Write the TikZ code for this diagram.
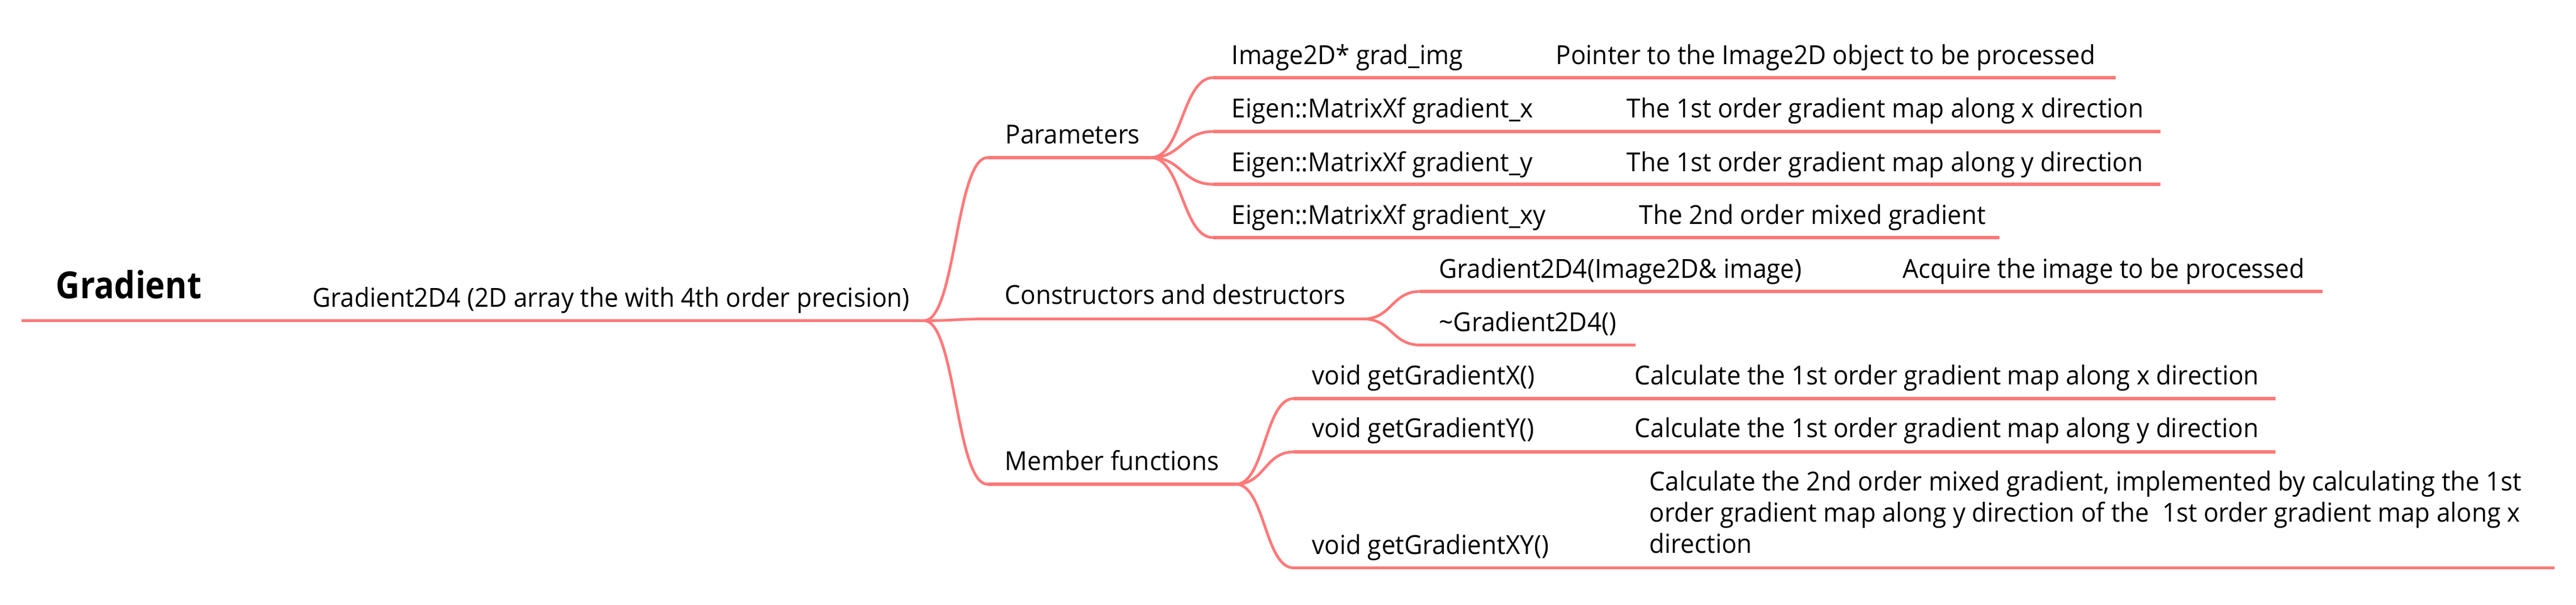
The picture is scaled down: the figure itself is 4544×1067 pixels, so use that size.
\documentclass[tikz,border=0pt]{standalone}
\usepackage{fontspec}
\setmainfont{Open Sans}[FakeStretch=0.952]
\newfontfamily\rootfont{Open Sans}[FakeStretch=0.89]
\definecolor{linecol}{RGB}{255,120,120}
\begin{document}
\begin{tikzpicture}[x=0.25pt,y=-0.25pt,
  lc/.style={draw=linecol,line width=1.3pt},
  conn/.style={draw=linecol,line width=1.2pt,line cap=round},
  txt/.style={anchor=base west,inner sep=0pt,font=\fontsize{11.55}{13.75}\selectfont},
  roottxt/.style={anchor=base west,inner sep=0pt,font=\rootfont\fontsize{16.45}{20}\selectfont\bfseries}]
\useasboundingbox (0,0) rectangle (4544,1067);

% root
\coordinate (r0) at (38,565.5); \coordinate (r1) at (407,565.5);
\draw[lc] (r0) -- (r1);
\node[roottxt] (root) at (98,527) {Gradient};
% Gradient2D4
\coordinate (g0) at (522,565.5); \coordinate (g1) at (1630,565.5);
\draw[lc] (g0) -- (g1);
\node[txt] (gtxt) at (551,542) {Gradient2D4 (2D array the with 4th order precision)};
\draw[conn] (r1) -- (g0);

% level 1
\coordinate (p0) at (1742,278); \coordinate (p1) at (2030,278);
\draw[lc] (p0) -- (p1);
\node[txt] (ptxt) at (1773,254) {Parameters};
\coordinate (c0) at (1742,562.5); \coordinate (c1) at (2405,562.5);
\draw[lc] (c0) -- (c1);
\node[txt] (ctxt) at (1772,537) {Constructors and destructors};
\coordinate (m0) at (1742,854); \coordinate (m1) at (2180,854);
\draw[lc] (m0) -- (m1);
\node[txt] (mtxt) at (1772,830) {Member functions};
\draw[conn] (g1) .. controls +(56,0) and +(-56,0) .. (p0);
\draw[conn] (g1) .. controls +(56,0) and +(-56,0) .. (c0);
\draw[conn] (g1) .. controls +(56,0) and +(-56,0) .. (m0);

% parameters children
\coordinate (pa0) at (2140,137); \coordinate (pa1) at (3732,137);
\draw[lc] (pa0) -- (pa1);
\node[txt] (pan) at (2172,114) {Image2D* grad\_img};
\node[txt] (pad) at (2744,114) {Pointer to the Image2D object to be processed};
\coordinate (pb0) at (2140,232); \coordinate (pb1) at (3811,232);
\draw[lc] (pb0) -- (pb1);
\node[txt] (pbn) at (2172,208) {Eigen::MatrixXf gradient\_x};
\node[txt] (pbd) at (2869,208) {The 1st order gradient map along x direction};
\coordinate (pc0) at (2140,325); \coordinate (pc1) at (3811,325);
\draw[lc] (pc0) -- (pc1);
\node[txt] (pcn) at (2172,303) {Eigen::MatrixXf gradient\_y};
\node[txt] (pcd) at (2869,303) {The 1st order gradient map along y direction};
\coordinate (pd0) at (2140,419); \coordinate (pd1) at (3527,419);
\draw[lc] (pd0) -- (pd1);
\node[txt] (pdn) at (2172,396) {Eigen::MatrixXf gradient\_xy};
\node[txt] (pdd) at (2891,396) {The 2nd order mixed gradient};
\foreach \k in {pa0,pb0,pc0,pd0}
  \draw[conn] (p1) .. controls +(55,0) and +(-55,0) .. (\k);

% constructors children
\coordinate (ca0) at (2505,514); \coordinate (ca1) at (4097,514);
\draw[lc] (ca0) -- (ca1);
\node[txt] (can) at (2538,491) {Gradient2D4(Image2D\& image)};
\node[txt] (cad) at (3356,491) {Acquire the image to be processed};
\coordinate (cb0) at (2505,608.5); \coordinate (cb1) at (2885,608.5);
\draw[lc] (cb0) -- (cb1);
\node[txt] (cbn) at (2538,585) {\char`\~Gradient2D4()};
\foreach \k in {ca0,cb0}
  \draw[conn] (c1) .. controls +(50,0) and +(-50,0) .. (\k);

% member children
\coordinate (ma0) at (2282,703); \coordinate (ma1) at (4014,703);
\draw[lc] (ma0) -- (ma1);
\node[txt] (man) at (2314,679) {void getGradientX()};
\node[txt] (mad) at (2883,679) {Calculate the 1st order gradient map along x direction};
\coordinate (mb0) at (2282,797); \coordinate (mb1) at (4014,797);
\draw[lc] (mb0) -- (mb1);
\node[txt] (mbn) at (2314,772) {void getGradientY()};
\node[txt] (mbd) at (2883,772) {Calculate the 1st order gradient map along y direction};
\coordinate (mc0) at (2282,1001.5); \coordinate (mc1) at (4506,1001.5);
\draw[lc] (mc0) -- (mc1);
\node[txt] (mcn) at (2314,978) {void getGradientXY()};
\node[txt] (mcd) at (2909,866) {\vtop{\baselineskip=13.75pt
  \hbox{Calculate the 2nd order mixed gradient, implemented by calculating the 1st}
  \hbox{order gradient map along y direction of the\ \ 1st order gradient map along x}
  \hbox{direction}}};
\foreach \k in {ma0,mb0,mc0}
  \draw[conn] (m1) .. controls +(51,0) and +(-51,0) .. (\k);
\end{tikzpicture}
\end{document}
